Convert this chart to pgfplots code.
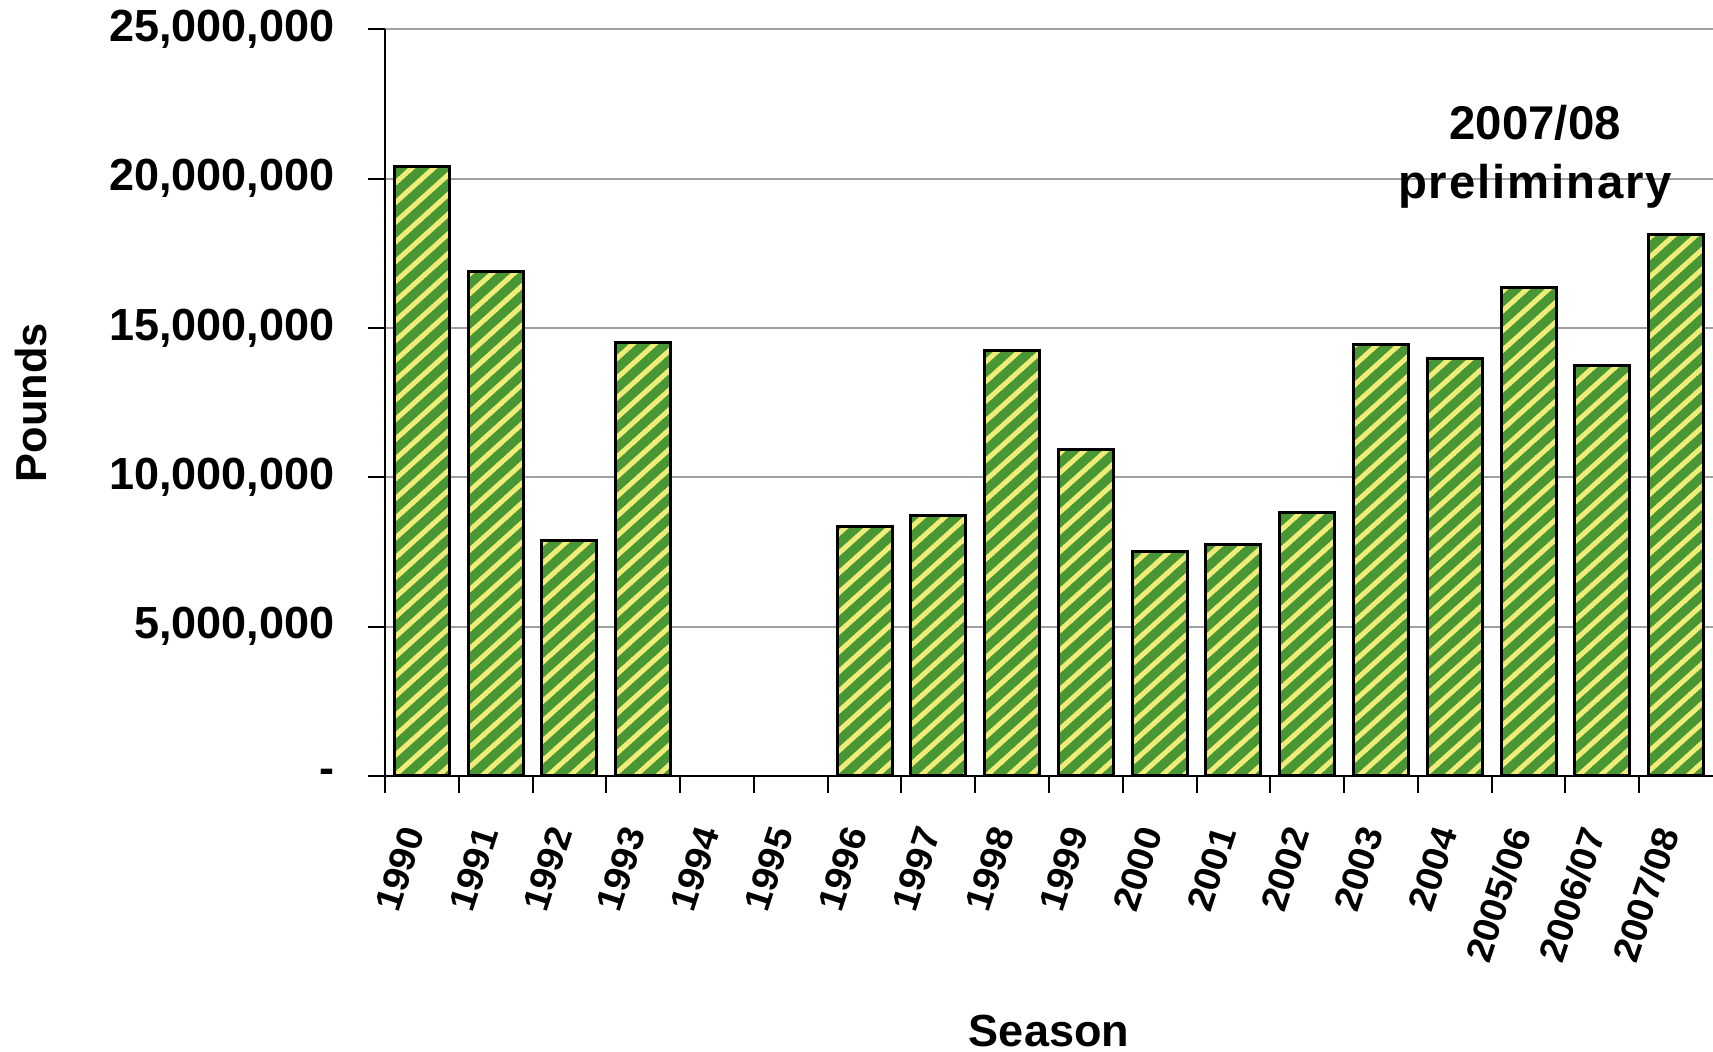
\documentclass[border=0pt]{standalone}
\usepackage{fontspec}
\setmainfont{Liberation Sans}
\usepackage{pgfplots}
\usepackage{pgfplotstable}
\pgfplotsset{compat=1.18}
\usetikzlibrary{patterns.meta}
\definecolor{barGreen}{RGB}{72,150,52}
\definecolor{barYellow}{RGB}{240,236,120}
\definecolor{gridGray}{RGB}{160,160,160}
\tikzdeclarepattern{
  name=diagstripes,
  type=uncolored,
  bounding box={(-0.2pt,-0.8pt) and (4.6pt,0.8pt)},
  tile size={(4.4pt,4.4pt)},
  tile transformation={rotate=42},
  code={\pgfsetlinewidth{1.5pt}\pgfpathmoveto{\pgfpoint{-0.2pt}{0pt}}\pgfpathlineto{\pgfpoint{4.6pt}{0pt}}\pgfusepath{stroke}}
}
\pgfplotstableread{
x y
0 20410000
1 16880000
2 7890000
3 14500000
6 8360000
7 8710000
8 14240000
9 10940000
10 7520000
11 7740000
12 8820000
13 14460000
14 13990000
15 16360000
16 13750000
17 18120000
}\catchdata
\begin{document}
\begin{tikzpicture}
\begin{axis}[
  name=ax,
  at={(0pt,0pt)}, anchor=south west,
  scale only axis, width=398.4pt, height=224pt,
  xmin=-0.5, xmax=17.5, ymin=0, ymax=25000000,
  clip=false,
  axis x line*=bottom, axis y line*=left,
  axis line style={black, line width=0.8pt},
  xtick={-0.5,0.5,1.5,2.5,3.5,4.5,5.5,6.5,7.5,8.5,9.5,10.5,11.5,12.5,13.5,14.5,15.5,16.5},
  xticklabels={1990,1991,1992,1993,1994,1995,1996,1997,1998,1999,2000,2001,2002,2003,2004,2005/06,2006/07,2007/08},
  xticklabel style={font=\fontsize{11}{12}\selectfont\bfseries\addfontfeatures{FakeStretch=1.05}, xshift=8.5pt, yshift=-10.6pt, rotate=72, anchor=east, inner sep=0pt},
  ytick={0,5000000,10000000,15000000,20000000,25000000},
  yticklabels={{-},{5,000,000},{10,000,000},{15,000,000},{20,000,000},{25,000,000}},
  scaled y ticks=false,
  yticklabel style={font=\fontsize{13.5}{16}\selectfont\bfseries, anchor=east, inner sep=0pt, xshift=-10pt},
  ymajorgrids, grid style={gridGray, line width=0.6pt},
  tick align=outside, major tick length=5pt, tick style={black, line width=0.6pt},
]
\addplot[ybar, bar width=16.5pt, draw=black, line width=0.9pt,
  preaction={fill=barGreen},
  preaction={pattern=diagstripes, pattern color=barYellow}]
  table[x=x, y=y]{\catchdata};
\node[anchor=base, font=\fontsize{14.2}{16}\selectfont\bfseries] at (axis cs:15.09,21300000) {2007/08};
\node[anchor=base, font=\fontsize{14.2}{16}\selectfont\bfseries\addfontfeatures{LetterSpace=4}] at (axis cs:15.09,19320000) {preliminary};
\end{axis}
\node[rotate=90, font=\fontsize{13}{15}\selectfont\bfseries] at ([xshift=-106.3pt]ax.west) {Pounds};
\node[font=\fontsize{13.5}{16}\selectfont\bfseries] at ([yshift=-76.6pt]ax.south) {Season};
\pgfresetboundingbox
\useasboundingbox (-115.5pt,-82.8pt) rectangle (398.4pt,232.8pt);
\end{tikzpicture}
\end{document}
